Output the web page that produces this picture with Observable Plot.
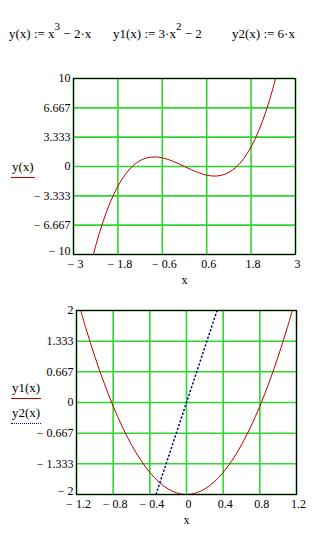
<!DOCTYPE html>
<html>
<head>
<meta charset="utf-8">
<script src="https://cdn.jsdelivr.net/npm/d3@7"></script>
<script src="https://cdn.jsdelivr.net/npm/@observablehq/plot@0.6"></script>
<style>
  html, body { margin: 0; padding: 0; background: #fff; }
  body { width: 321px; height: 543px; position: relative; overflow: hidden;
         font-family: "Liberation Serif", "Times New Roman", serif; color: #000; }
  .abs { position: absolute; white-space: pre; z-index: 5; }
  .title { font-size: 13px; top: 26px; }
  .title sup { font-size: 11px; position: relative; top: -3px; vertical-align: super; line-height: 0; }
  .leg { font-size: 13px; line-height: 14px; }
  #c1 { position: absolute; left: 0; top: 60px; z-index: 1; }
  #c2 { position: absolute; left: 0; top: 294px; z-index: 1; }
  svg text { font-family: "Liberation Serif", "Times New Roman", serif; }
</style>
</head>
<body>
<div class="abs title" style="left:9px">y(x) := x<sup>3</sup> − 2·x</div>
<div class="abs title" style="left:113px">y1(x) := 3·x<sup>2</sup> − 2</div>
<div class="abs title" style="left:232px">y2(x) := 6·x</div>

<div id="c1"></div>
<div id="c2"></div>

<div class="abs leg" style="left:11px; top:160px; border-bottom:1.5px solid #c00000; padding:0 1px 3px 1px;">y(x)</div>
<div class="abs leg" style="left:11px; top:381px; border-bottom:1.5px solid #c00000; padding:0 1px 3px 1px;">y1(x)</div>
<div class="abs leg" style="left:11px; top:406px; border-bottom:1.5px dotted #000080; padding:0 1px 3px 1px;">y2(x)</div>

<script>
// Chart 1: y(x) = x^3 - 2x
const x1 = [-2.6, -2.4, -2.2, -2.0, -1.8, -1.6, -1.4, -1.2, -1.0, -0.8, -0.6, -0.4, -0.2, 0,
            0.2, 0.4, 0.6, 0.8, 1.0, 1.2, 1.4, 1.6, 1.8, 2.0, 2.2, 2.4, 2.6];
const y1 = [-12.376, -9.024, -6.248, -4, -2.232, -0.896, 0.056, 0.672, 1, 1.088, 0.984, 0.736, 0.392, 0,
            -0.392, -0.736, -0.984, -1.088, -1, -0.672, -0.056, 0.896, 2.232, 4, 6.248, 9.024, 12.376];
const xTicks1 = [-3, -1.8, -0.6, 0.6, 1.8, 3];
const yTicks1 = [10, 6.667, 3.333, 0, -3.333, -6.667, -10];

// Chart 2: y1(x) = 3x^2 - 2, y2(x) = 6x
const x2 = [-1.2, -1.1, -1.0, -0.9, -0.8, -0.7, -0.6, -0.5, -0.4, -0.3, -0.2, -0.1, 0,
            0.1, 0.2, 0.3, 0.4, 0.5, 0.6, 0.7, 0.8, 0.9, 1.0, 1.1, 1.2];
const y2a = [2.32, 1.63, 1, 0.43, -0.08, -0.53, -0.92, -1.25, -1.52, -1.73, -1.88, -1.97, -2,
             -1.97, -1.88, -1.73, -1.52, -1.25, -0.92, -0.53, -0.08, 0.43, 1, 1.63, 2.32];
const x3 = [-0.4, -0.2, 0, 0.2, 0.4];
const y3 = [-2.4, -1.2, 0, 1.2, 2.4];
const xTicks2 = [-1.2, -0.8, -0.4, 0, 0.4, 0.8, 1.2];
const yTicks2 = [2, 1.333, 0.667, 0, -0.667, -1.333, -2];

const fmt = d => (d < 0 ? "− " + String(Math.abs(d)) : String(d));
const GRID = "#2fd62f";
const RED = "#c00000";

const d1 = x1.map((x, i) => ({x, y: y1[i]}));
const d2 = x2.map((x, i) => ({x, y: y2a[i]}));
const d3_ = x3.map((x, i) => ({x, y: y3[i]}));

function axes(xt, yt) {
  const ymin = Math.min(...yt);
  return [
    Plot.ruleX(xt, {stroke: GRID, strokeWidth: 1.6}),
    Plot.ruleY(yt, {stroke: GRID, strokeWidth: 1.6}),
    Plot.axisX(xt, {tickSize: 0, tickPadding: 5, dx: 2, tickFormat: fmt, fontSize: 12, label: null}),
    Plot.axisY(yt.filter(d => d !== ymin), {tickSize: 0, tickPadding: 3, tickFormat: fmt, fontSize: 12, label: null}),
    Plot.axisY([ymin], {tickSize: 0, tickPadding: 3, dy: -3, tickFormat: fmt, fontSize: 12, label: null}),
  ];
}

const p1 = Plot.plot({
  width: 321, height: 234,
  marginLeft: 73, marginRight: 26, marginTop: 18, marginBottom: 40,
  x: {domain: [-3, 3]},
  y: {domain: [-10, 10]},
  style: {fontFamily: "Liberation Serif, serif", fontSize: "12px", color: "#000", background: "#fff"},
  marks: [
    ...axes(xTicks1, yTicks1),
    Plot.line(d1, {x: "x", y: "y", stroke: RED, strokeWidth: 1, curve: "catmull-rom", clip: true}),
    Plot.frame({stroke: "#000", strokeWidth: 1.2}),
    Plot.text(["x"], {frameAnchor: "bottom", dy: 29, fontSize: 12})
  ]
});
document.getElementById("c1").append(p1);

const p2 = Plot.plot({
  width: 321, height: 240,
  marginLeft: 76, marginRight: 25, marginTop: 16, marginBottom: 40,
  x: {domain: [-1.2, 1.2]},
  y: {domain: [-2, 2]},
  style: {fontFamily: "Liberation Serif, serif", fontSize: "12px", color: "#000", background: "#fff"},
  marks: [
    ...axes(xTicks2, yTicks2),
    Plot.line(d2, {x: "x", y: "y", stroke: RED, strokeWidth: 1, curve: "catmull-rom", clip: true}),
    Plot.line(d3_, {x: "x", y: "y", stroke: "#000080", strokeWidth: 1.5, strokeDasharray: "1,3", clip: true}),
    Plot.frame({stroke: "#000", strokeWidth: 1.2}),
    Plot.text(["x"], {frameAnchor: "bottom", dy: 29, fontSize: 12})
  ]
});
document.getElementById("c2").append(p2);
</script>
</body>
</html>
